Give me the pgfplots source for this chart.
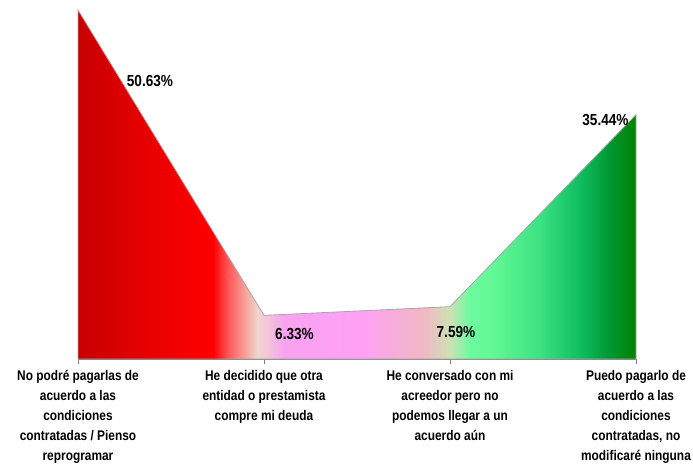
\documentclass[border=0pt]{standalone}
\usepackage{pgfplots}
\pgfplotsset{compat=1.18}
\usepackage{fontspec}
\setmainfont{Liberation Sans}
\newfontfamily\narrow{Liberation Sans}[FakeStretch=0.85]

% colours of the horizontal gradient, left to right
\definecolor{s0}{RGB}{200,0,0}
\definecolor{s1}{RGB}{232,0,0}
\definecolor{s2}{RGB}{255,0,0}
\definecolor{s3}{RGB}{255,85,85}
\definecolor{s4}{RGB}{240,215,205}
\definecolor{s5}{RGB}{248,162,240}
\definecolor{s6}{RGB}{255,160,245}
\definecolor{s7}{RGB}{240,185,195}
\definecolor{s8}{RGB}{205,225,180}
\definecolor{s9}{RGB}{110,250,160}
\definecolor{s10}{RGB}{100,250,150}
\definecolor{s11}{RGB}{60,225,130}
\definecolor{s12}{RGB}{15,190,95}
\definecolor{s13}{RGB}{0,150,50}
\definecolor{s14}{RGB}{0,130,0}

% path bbox maps to 25bp..75bp
\pgfdeclarehorizontalshading{areagrad}{100bp}{%
  color(0bp)=(s0); color(25bp)=(s0); color(31.4bp)=(s1); color(37.1bp)=(s2);
  color(38.4bp)=(s3); color(41.1bp)=(s4); color(43.5bp)=(s5); color(50.3bp)=(s6);
  color(56.1bp)=(s7); color(58.3bp)=(s8); color(60.1bp)=(s9); color(61.9bp)=(s10);
  color(66.4bp)=(s11); color(70bp)=(s12); color(72.7bp)=(s13); color(75bp)=(s14);
  color(100bp)=(s14)}

\begin{document}
\begin{tikzpicture}
\useasboundingbox (0pt,0pt) rectangle (693pt,464pt);
\begin{axis}[
	at={(78pt,105pt)}, anchor=origin,
	scale only axis,
	width=558pt, height=349pt,
	xmin=0, xmax=3, ymin=0, ymax=50.63,
	clip=false,
	axis x line=bottom,
	x axis line style={-, gray},
	hide y axis,
	xtick={0,1,2,3},
	xtick align=outside,
	major tick length=5pt,
	xtick style={gray},
	xticklabels={
		{No podré pagarlas de\\acuerdo a las\\condiciones\\contratadas / Pienso\\reprogramar},
		{He decidido que otra\\entidad o prestamista\\compre mi deuda},
		{He conversado con mi\\acreedor pero no\\podemos llegar a un\\acuerdo aún},
		{Puedo pagarlo de\\acuerdo a las\\condiciones\\contratadas, no\\modificaré ninguna}},
	xticklabel style={align=center, font=\narrow\bfseries\fontsize{14}{20}\selectfont, yshift=-3pt},
]
\addplot[shade, shading=areagrad, draw=gray!70, line width=0.8pt, mark=none]
	coordinates {(0,50.63) (1,6.33) (2,7.59) (3,35.44)} \closedcycle;

\begin{scope}[font=\narrow\bfseries\fontsize{16}{18}\selectfont]
\node at (axis cs:0.387,40.3) {50.63\%};
\node at (axis cs:1.164,3.63) {6.33\%};
\node at (axis cs:2.032,3.92) {7.59\%};
\node at (axis cs:2.836,34.67) {35.44\%};
\end{scope}
\end{axis}
\end{tikzpicture}
\end{document}
